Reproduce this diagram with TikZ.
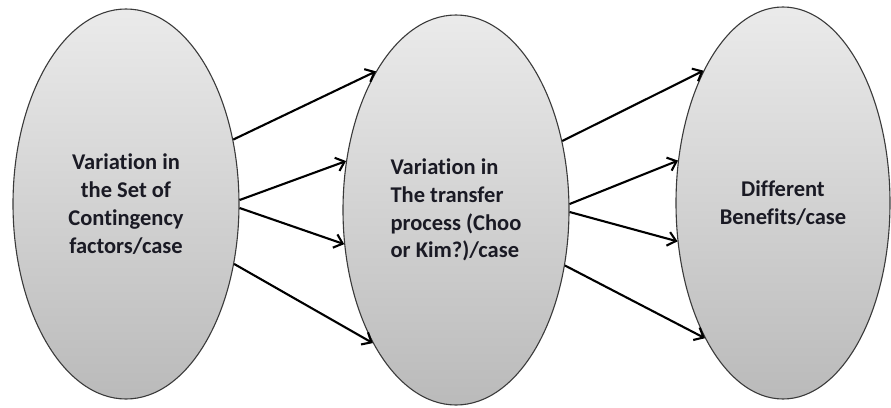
\documentclass[tikz,border=0pt]{standalone}
\usepackage{fontspec}
\setmainfont{Carlito}[Ligatures=NoCommon]
\usetikzlibrary{shapes.geometric,arrows.meta}
\definecolor{inkdark}{HTML}{1A1A24}
\definecolor{rimgray}{HTML}{3A3A3A}
\begin{document}
\begin{tikzpicture}[x=1pt,y=-1pt,
  stage/.style={ellipse,draw=rimgray,line width=1.1pt,inner sep=0pt,
    top color=black!8,bottom color=black!27,
    text=inkdark,font=\bfseries\fontsize{22.5}{27.8}\selectfont},
  flow/.style={line width=2.1pt,draw=black,-{Straight Barb[length=8pt,width=14pt,line width=2.1pt]}}]
  \useasboundingbox (0,0) rectangle (891,407);
  \fill[white] (0,0) rectangle (891,407);

  % the three stages
  \node[stage,minimum width=226pt,minimum height=390pt,align=center] (e1) at (126,204)
    {Variation in\\the Set of\\Contingency\\factors/case};
  \node[stage,minimum width=226pt,minimum height=390pt,align=left] (e2) at (456,210)
    {Variation in\\The transfer\\process (Choo\\or Kim?)/case};
  \node[stage,minimum width=214pt,minimum height=392pt,align=center] (e3) at (783,203)
    {Different\\Benefits/case};

  % links from the first stage to the second
  \draw[flow] (e1.31) -- (e2.120.4);
  \draw[flow] (e1.2) -- (e2.156.3);
  \draw[flow] (e1.-2) -- (e2.197);
  \draw[flow] (e1.-29) -- (e2.238.7);

  % links from the second stage to the third
  \draw[flow] (e2.33.2) -- (e3.121.4);
  \draw[flow] (e2.3.5) -- (e3.158.6);
  \draw[flow] (e2.-1) -- (e3.200.9);
  \draw[flow] (e2.-27.2) -- (e3.240.3);
\end{tikzpicture}
\end{document}
